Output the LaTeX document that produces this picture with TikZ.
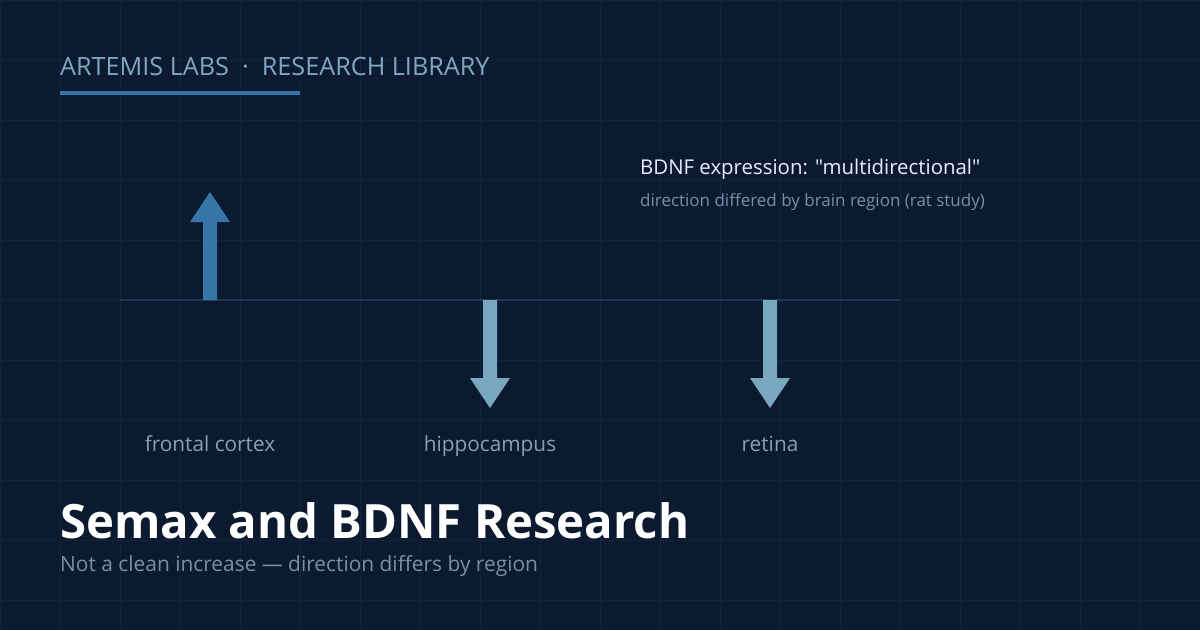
\documentclass[tikz,border=0pt]{standalone}
\usepackage{fontspec}
\setmainfont{Open Sans}[Ligatures=TeXOff]
\begin{document}
\begin{tikzpicture}[x=1pt,y=-1pt,
  txt/.style={anchor=base west,inner sep=0pt},
  lbl/.style={anchor=base,inner sep=0pt,text=labc,font=\fontsize{20.8}{24}\selectfont}]
\definecolor{bg}{HTML}{0B1A2E}
\definecolor{gridc}{HTML}{11223A}
\definecolor{axisc}{HTML}{1F3A55}
\definecolor{upc}{HTML}{3776A8}
\definecolor{downc}{HTML}{7AA7C0}
\definecolor{headc}{HTML}{7FA7C2}
\definecolor{labc}{HTML}{8A9FB5}
\definecolor{subc}{HTML}{7B8FA6}
\fill[bg] (0,0) rectangle (1200,630);
\useasboundingbox (0,0) rectangle (1200,630);
\foreach \x in {0,60,...,1200} \draw[gridc,line width=1] (\x,0) -- (\x,630);
\foreach \y in {0,60,...,630} \draw[gridc,line width=1] (0,\y) -- (1200,\y);
\node[txt,text=headc,font=\fontsize{25.2}{30}\selectfont] (hdr) at (60,75) {ARTEMIS LABS\ \ ·\ \ RESEARCH LIBRARY};
\fill[upc] (60,91) rectangle (300,95);
\coordinate (a0) at (120,300); \coordinate (a1) at (900,300);
\draw[axisc,line width=1.5] (a0) -- (a1);
\fill[upc] (203,300) -- (203,222) -- (190,222) -- (210,192) -- (230,222) -- (217,222) -- (217,300) -- cycle;
\foreach \cx in {490,770}
  \fill[downc] (\cx-7,300) -- (\cx-7,378) -- (\cx-20,378) -- (\cx,408) -- (\cx+20,378) -- (\cx+7,378) -- (\cx+7,300) -- cycle;
\node[txt,text=white!92!blue,font=\fontsize{20.4}{24}\selectfont] (bd) at (640,174) {BDNF expression: "multidirectional"};
\node[txt,text=subc,font=\fontsize{17}{20}\selectfont] (bds) at (640,206) {direction differed by brain region (rat study)};
\node[lbl] (l1) at (210,451) {frontal cortex};
\node[lbl] (l2) at (490,451) {hippocampus};
\node[lbl] (l3) at (770,451) {retina};
\node[txt,text=white,font=\fontsize{47.3}{56}\selectfont\bfseries] (ttl) at (60,538) {Semax and BDNF Research};
\node[txt,text=subc,font=\fontsize{20.9}{24}\selectfont] (st) at (60,571) {Not a clean increase — direction differs by region};
\end{tikzpicture}
\end{document}
